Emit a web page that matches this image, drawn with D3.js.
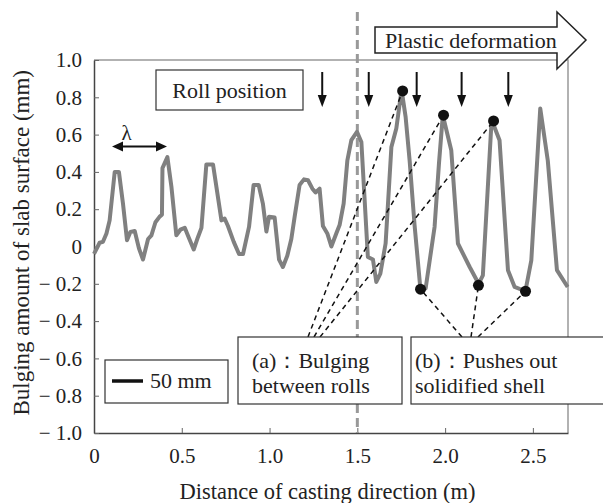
<!DOCTYPE html>
<html>
<head>
<meta charset="utf-8">
<script src="https://cdn.jsdelivr.net/npm/d3@7"></script>
</head>
<body style="margin:0;background:#fff">
<svg id="chart" width="603" height="503"></svg>
<script>
// measured profile along the casting direction
var distance = [0, 0.032, 0.051, 0.071, 0.089, 0.118, 0.142, 0.165, 0.188, 0.207,
  0.232, 0.256, 0.279, 0.308, 0.327, 0.350, 0.374, 0.387, 0.390, 0.418,
  0.441, 0.469, 0.492, 0.517, 0.539, 0.568, 0.592, 0.612, 0.640, 0.678,
  0.726, 0.744, 0.763, 0.796, 0.826, 0.849, 0.883, 0.909, 0.938, 0.962,
  0.982, 0.997, 1.029, 1.054, 1.076, 1.101, 1.124, 1.143, 1.171, 1.196,
  1.219, 1.244, 1.262, 1.285, 1.304, 1.329, 1.352, 1.380, 1.399, 1.422,
  1.443, 1.466, 1.498, 1.523, 1.560, 1.589, 1.608, 1.631, 1.661, 1.694,
  1.722, 1.752, 1.775, 1.798, 1.826, 1.859, 1.889, 1.940, 1.965, 1.987,
  2.035, 2.073, 2.140, 2.191, 2.215, 2.265, 2.310, 2.358, 2.396, 2.457,
  2.491, 2.542, 2.585, 2.637, 2.698];
var bulging = [-0.04, 0.02, 0.025, 0.07, 0.14, 0.40, 0.40, 0.23, 0.034, 0.078,
  0.083, -0.01, -0.07, 0.04, 0.06, 0.13, 0.16, 0.17, 0.42, 0.48,
  0.32, 0.06, 0.09, 0.10, 0.05, -0.016, 0.05, 0.10, 0.44, 0.44,
  0.14, 0.15, 0.11, 0.025, -0.04, -0.04, 0.105, 0.33, 0.33, 0.23,
  0.08, 0.16, 0.155, -0.07, -0.11, -0.05, 0.04, 0.16, 0.33, 0.36,
  0.355, 0.31, 0.29, 0.31, 0.11, 0.07, 0.0, 0.07, 0.115, 0.23,
  0.46, 0.57, 0.615, 0.56, -0.056, -0.07, -0.19, -0.145, 0.016, 0.534,
  0.633, 0.84, 0.695, 0.46, 0.115, -0.225, -0.225, 0.105, 0.445, 0.704,
  0.516, 0.016, -0.11, -0.20, -0.155, 0.68, 0.57, -0.127, -0.217, -0.24,
  -0.074, 0.74, 0.46, -0.127, -0.217];

// marked points: (a) peaks, (b) troughs
var peakX = [1.758, 1.991, 2.276];
var peakY = [0.834, 0.704, 0.673];
var troughX = [1.860, 2.190, 2.458];
var troughY = [-0.229, -0.208, -0.240];

var rollPos = [1.30, 1.565, 1.838, 2.094, 2.36];
var boundaryX = 1.5;

var xTicks = [0, 0.5, 1.0, 1.5, 2.0, 2.5];
var xTickLabels = ["0", "0.5", "1.0", "1.5", "2.0", "2.5"];
var yTicks = [1.0, 0.8, 0.6, 0.4, 0.2, 0, -0.2, -0.4, -0.6, -0.8, -1.0];
var yTickLabels = ["1.0", "0.8", "0.6", "0.4", "0.2", "0", "\u2212 0.2", "\u2212 0.4", "\u2212 0.6", "\u2212 0.8", "\u2212 1.0"];

var fontName = "'Liberation Serif'";

var margin = { top: 60, right: 35, bottom: 70, left: 94 };
var width = 603 - margin.left - margin.right;
var height = 503 - margin.top - margin.bottom;

var svg = d3.select("#chart");
var g = svg.append("g")
  .attr("transform", "translate(" + margin.left + "," + margin.top + ")");

var x = d3.scaleLinear().domain([0, 2.7]).range([0, width]);
var y = d3.scaleLinear().domain([-1, 1]).range([height, 0]);

// top / right frame
g.append("path")
  .attr("d", "M0,0H" + width + "V" + height)
  .attr("fill", "none")
  .attr("stroke", "#999")
  .attr("stroke-width", 1.5);

var xAxis = d3.axisBottom(x)
  .tickValues(xTicks)
  .tickFormat(function(d, i) { return xTickLabels[i]; })
  .tickSizeInner(-5).tickSizeOuter(0).tickPadding(15);
var yAxis = d3.axisLeft(y)
  .tickValues(yTicks)
  .tickFormat(function(d, i) { return yTickLabels[i]; })
  .tickSizeInner(-5).tickSizeOuter(0).tickPadding(12);

var gx = g.append("g")
  .attr("transform", "translate(0," + height + ")")
  .call(xAxis);
var gy = g.append("g").call(yAxis);

[gx, gy].forEach(function(a) {
  a.attr("font-family", fontName).attr("font-size", 21);
  a.select(".domain").attr("stroke", "#444").attr("stroke-width", 1.5);
  a.selectAll(".tick line").attr("stroke", "#666");
  a.selectAll(".tick text")
    .attr("font-family", fontName)
    .attr("font-size", 21)
    .attr("fill", "#222");
});

// axis titles
svg.append("text")
  .attr("x", margin.left + x(1.33))
  .attr("y", 499)
  .attr("text-anchor", "middle")
  .attr("font-family", fontName)
  .attr("font-size", 22.5)
  .attr("fill", "#222")
  .text("Distance of casting direction (m)");
svg.append("text")
  .attr("transform", "translate(29," + (margin.top + y(0.02)) + ") rotate(-90)")
  .attr("text-anchor", "middle")
  .attr("font-family", fontName)
  .attr("font-size", 23)
  .attr("fill", "#222")
  .text("Bulging amount of slab surface (mm)");

// boundary of plastic deformation
g.append("line")
  .attr("x1", x(boundaryX)).attr("x2", x(boundaryX))
  .attr("y1", -48).attr("y2", height)
  .attr("stroke", "#999")
  .attr("stroke-width", 3)
  .attr("stroke-dasharray", "9,5");

// the profile
var line = d3.line()
  .x(function(d) { return x(d[0]); })
  .y(function(d) { return y(d[1]); });

g.append("path")
  .datum(d3.zip(distance, bulging))
  .attr("d", line)
  .attr("fill", "none")
  .attr("stroke", "#808080")
  .attr("stroke-width", 4)
  .attr("stroke-linejoin", "round");

// dashed leaders
var aAnchor = [308, 314, 320];
var bAnchor = [462, 471, 478];
g.selectAll(".leadA")
  .data(d3.zip(peakX, peakY))
  .enter().append("line")
  .attr("x1", function(d, i) { return aAnchor[i] - margin.left; })
  .attr("y1", 337 - margin.top)
  .attr("x2", function(d) { return x(d[0]); })
  .attr("y2", function(d) { return y(d[1]); })
  .attr("stroke", "#111").attr("stroke-width", 1.5)
  .attr("stroke-dasharray", "5,4");
g.selectAll(".leadB")
  .data(d3.zip(troughX, troughY))
  .enter().append("line")
  .attr("x1", function(d, i) { return bAnchor[i] - margin.left; })
  .attr("y1", 337 - margin.top)
  .attr("x2", function(d) { return x(d[0]); })
  .attr("y2", function(d) { return y(d[1]); })
  .attr("stroke", "#111").attr("stroke-width", 1.5)
  .attr("stroke-dasharray", "5,4");

g.selectAll(".dot")
  .data(d3.zip(peakX.concat(troughX), peakY.concat(troughY)))
  .enter().append("circle")
  .attr("cx", function(d) { return x(d[0]); })
  .attr("cy", function(d) { return y(d[1]); })
  .attr("r", 5.5)
  .attr("fill", "#111");

// roll position arrows
var rolls = g.selectAll(".roll")
  .data(rollPos)
  .enter().append("g")
  .attr("transform", function(d) { return "translate(" + x(d) + ",0)"; });
rolls.append("line")
  .attr("y1", 12).attr("y2", 38)
  .attr("stroke", "#111").attr("stroke-width", 2);
rolls.append("path")
  .attr("d", "M-4.5,35L4.5,35L0,47Z")
  .attr("fill", "#111");

// roll position label
svg.append("rect")
  .attr("x", 156).attr("y", 70).attr("width", 147).attr("height", 40)
  .attr("fill", "#fff").attr("stroke", "#333").attr("stroke-width", 1.2);
svg.append("text")
  .attr("x", 229.5).attr("y", 98)
  .attr("text-anchor", "middle")
  .attr("font-family", fontName)
  .attr("font-size", 22)
  .attr("fill", "#222")
  .text("Roll position");

// lambda arrow
svg.append("line")
  .attr("x1", 120).attr("x2", 159).attr("y1", 146.5).attr("y2", 146.5)
  .attr("stroke", "#111").attr("stroke-width", 2.2);
svg.append("path")
  .attr("d", "M112,146.5L123,141.5L123,151.5Z M167,146.5L156,141.5L156,151.5Z")
  .attr("fill", "#111");
svg.append("text")
  .attr("x", 126.5).attr("y", 140)
  .attr("text-anchor", "middle")
  .attr("font-family", fontName)
  .attr("font-size", 21)
  .attr("fill", "#222")
  .text("\u03bb");

// plastic deformation arrow
svg.append("path")
  .attr("d", "M375,27L557,27L557,12L586,40L557,69L557,53L375,53Z")
  .attr("fill", "#fff").attr("stroke", "#222").attr("stroke-width", 1.5);
svg.append("text")
  .attr("x", 385).attr("y", 48)
  .attr("font-family", fontName)
  .attr("font-size", 22)
  .attr("fill", "#222")
  .text("Plastic deformation");

// scale legend
svg.append("rect")
  .attr("x", 105).attr("y", 360).attr("width", 123).attr("height", 43)
  .attr("fill", "#fff").attr("stroke", "#333").attr("stroke-width", 1.2);
svg.append("line")
  .attr("x1", 112).attr("x2", 143).attr("y1", 381).attr("y2", 381)
  .attr("stroke", "#111").attr("stroke-width", 3.5);
svg.append("text")
  .attr("x", 150).attr("y", 388)
  .attr("font-family", fontName)
  .attr("font-size", 22)
  .attr("fill", "#222")
  .text("50 mm");

// note boxes
var notes = [
  { x: 238, w: 164, tx: 252, lines: ["(a)\uff1aBulging", "between rolls"] },
  { x: 411, w: 200, tx: 415, lines: ["(b)\uff1aPushes out", "solidified shell"] }
];
notes.forEach(function(n) {
  svg.append("rect")
    .attr("x", n.x).attr("y", 337).attr("width", n.w).attr("height", 67)
    .attr("fill", "#fff").attr("stroke", "#333").attr("stroke-width", 1.2);
  n.lines.forEach(function(t, i) {
    svg.append("text")
      .attr("x", n.tx).attr("y", 368 + i * 25)
      .attr("font-family", fontName)
      .attr("font-size", 22)
      .attr("fill", "#222")
      .text(t);
  });
});
</script>
</body>
</html>
